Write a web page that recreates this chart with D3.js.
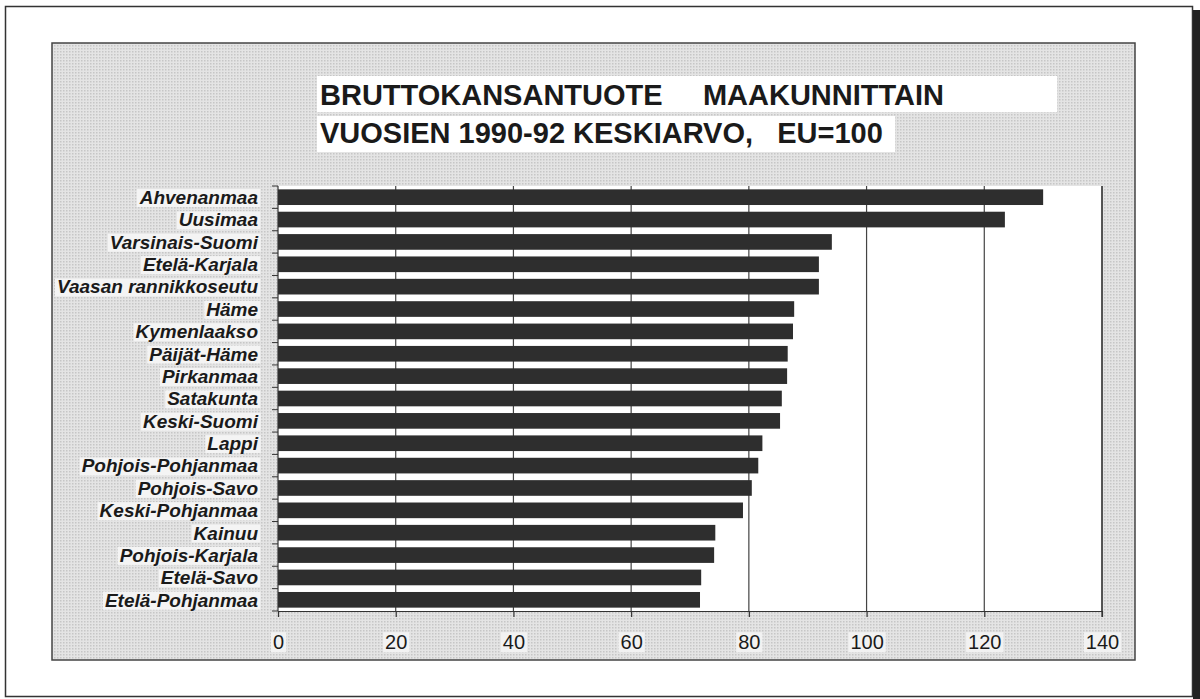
<!DOCTYPE html>
<html>
<head>
<meta charset="utf-8">
<script src="https://cdn.jsdelivr.net/npm/d3@7"></script>
<style>
  body { margin: 0; background: #fff; }
  svg { display: block; }
  text { font-family: "Liberation Sans", Arial, Helvetica, sans-serif; fill: #1a1a1a; }
</style>
</head>
<body>
<script>
// Regions (maakunnat), top to bottom
var regions = ["Ahvenanmaa", "Uusimaa", "Varsinais-Suomi", "Etelä-Karjala", "Vaasan rannikkoseutu",
  "Häme", "Kymenlaakso", "Päijät-Häme", "Pirkanmaa", "Satakunta", "Keski-Suomi", "Lappi",
  "Pohjois-Pohjanmaa", "Pohjois-Savo", "Keski-Pohjanmaa", "Kainuu", "Pohjois-Karjala",
  "Etelä-Savo", "Etelä-Pohjanmaa"]
// GDP per capita, EU=100, average 1990-92
var gdpValues = [130.0, 123.5, 94.1, 91.9, 91.9, 87.7, 87.5, 86.6, 86.5, 85.6, 85.3,
  82.3, 81.6, 80.5, 79.0, 74.3, 74.1, 71.9, 71.7]
var xTicks = [0, 20, 40, 60, 80, 100, 120, 140]
var titleLines = ["BRUTTOKANSANTUOTE     MAAKUNNITTAIN", "VUOSIEN 1990-92 KESKIARVO,   EU=100"]

var width = 1200, height = 699;
var plot = {left: 278, right: 1102, top: 186, bottom: 611};

var svg = d3.select("body").append("svg")
            .attr("width", width)
            .attr("height", height);

// halftone-ish gray for the panel
var defs = svg.append("defs");
var pat = defs.append("pattern")
              .attr("id", "dots")
              .attr("width", 3)
              .attr("height", 3)
              .attr("patternUnits", "userSpaceOnUse");
pat.append("rect").attr("width", 3).attr("height", 3).attr("fill", "#e4e4e4");
pat.append("rect").attr("width", 1.5).attr("height", 1.5).attr("fill", "#c6c6c6");

// Outer page frame
svg.append("rect")
   .attr("x", 5.5).attr("y", 6.5)
   .attr("width", 1187).attr("height", 690)
   .attr("fill", "#fff")
   .attr("stroke", "#333")
   .attr("stroke-width", 1.5);
svg.append("rect")
   .attr("x", 1193).attr("y", 10)
   .attr("width", 7).attr("height", 689)
   .attr("fill", "#222");

// Gray chart panel
svg.append("rect")
   .attr("x", 52).attr("y", 43)
   .attr("width", 1083).attr("height", 617)
   .attr("fill", "url(#dots)")
   .attr("stroke", "#444")
   .attr("stroke-width", 1.5);

// Scales
var x = d3.scaleLinear()
          .domain([0, 140])
          .range([plot.left, plot.right]);
var y = d3.scaleBand()
          .domain(regions)
          .range([plot.top, plot.bottom])
          .paddingInner(0.3)
          .paddingOuter(0.15);

// White plot area
svg.append("rect")
   .attr("x", plot.left).attr("y", plot.top)
   .attr("width", plot.right - plot.left).attr("height", plot.bottom - plot.top)
   .attr("fill", "#fff");

// Vertical gridlines
svg.append("g")
   .selectAll("line")
   .data(xTicks.slice(1))
   .enter().append("line")
   .attr("x1", function(d){ return x(d); })
   .attr("x2", function(d){ return x(d); })
   .attr("y1", plot.top)
   .attr("y2", plot.bottom)
   .attr("stroke", "#444")
   .attr("stroke-width", 1.2);

// Bars
svg.append("g")
   .selectAll("rect")
   .data(gdpValues)
   .enter().append("rect")
   .attr("x", x(0))
   .attr("y", function(d, i){ return y(regions[i]); })
   .attr("width", function(d){ return x(d) - x(0); })
   .attr("height", y.bandwidth())
   .attr("fill", "#2e2e2e");

// X axis
var xAxis = svg.append("g")
   .attr("transform", "translate(0," + plot.bottom + ")")
   .call(d3.axisBottom(x).tickValues(xTicks).tickSize(6).tickPadding(18).tickSizeOuter(0));
xAxis.select(".domain").attr("stroke", "#333").attr("stroke-width", 1.2);
xAxis.selectAll(".tick line").attr("stroke", "#333").attr("stroke-width", 1.2);
xAxis.selectAll(".tick text")
     .attr("font-size", 20)
     .style("fill", "#1a1a1a")
     .attr("font-family", "Liberation Sans, Arial, sans-serif");
// white halo behind x tick labels
xAxis.selectAll(".tick").each(function(){
  var t = d3.select(this).select("text");
  var b = t.node().getBBox();
  d3.select(this).insert("rect", "text")
    .attr("x", b.x - 2).attr("y", b.y + 1)
    .attr("width", b.width + 4).attr("height", b.height - 2)
    .attr("fill", "#f2f2f2");
});

// Y axis: left line with ticks at band boundaries
var bounds = regions.map(function(r){ return y(r) - y.step() * y.paddingInner() / 2; });
bounds.push(plot.bottom);
svg.append("line")
   .attr("x1", plot.left).attr("x2", plot.left)
   .attr("y1", plot.top).attr("y2", plot.bottom)
   .attr("stroke", "#333").attr("stroke-width", 1.2);
svg.append("g")
   .selectAll("line")
   .data(bounds)
   .enter().append("line")
   .attr("x1", plot.left - 6).attr("x2", plot.left)
   .attr("y1", function(d){ return d; })
   .attr("y2", function(d){ return d; })
   .attr("stroke", "#333").attr("stroke-width", 1);

// Right border of plot
svg.append("line")
   .attr("x1", plot.right).attr("x2", plot.right)
   .attr("y1", plot.top).attr("y2", plot.bottom + 6)
   .attr("stroke", "#333").attr("stroke-width", 1.2);

// Region labels
var labels = svg.append("g");
labels.selectAll("text")
   .data(regions)
   .enter().append("text")
   .attr("x", 258)
   .attr("y", function(d){ return y(d) + y.bandwidth() / 2; })
   .attr("dy", "0.36em")
   .attr("text-anchor", "end")
   .attr("font-size", 19)
   .attr("font-weight", "bold")
   .attr("font-style", "italic")
   .text(function(d){ return d; });
labels.selectAll("text").each(function(){
  var b = this.getBBox();
  labels.insert("rect", "text")
        .attr("x", b.x - 2).attr("y", b.y + 2)
        .attr("width", b.width + 4).attr("height", b.height - 3)
        .attr("fill", "#f4f4f4");
});

// Title with white boxes
var title = svg.append("g");
title.append("rect").attr("x", 317).attr("y", 76).attr("width", 740).attr("height", 36).attr("fill", "#fff");
title.append("rect").attr("x", 317).attr("y", 116).attr("width", 578).attr("height", 36).attr("fill", "#fff");
title.selectAll("text")
     .data(titleLines)
     .enter().append("text")
     .attr("x", 320)
     .attr("y", function(d, i){ return 105 + i * 38; })
     .attr("font-size", 29)
     .attr("font-weight", "bold")
     .attr("xml:space", "preserve")
     .text(function(d){ return d; });
</script>
</body>
</html>
